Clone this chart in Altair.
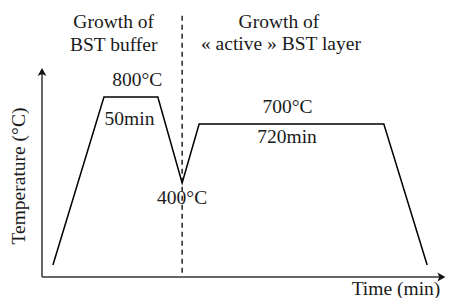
import altair as alt
import pandas as pd

# Schematic thermal profile (arbitrary time / temperature-level units, 0-100)
profile_time = [2.7, 15.3, 28.6, 34.6, 38.8, 84.4, 95.1]
profile_level = [5.7, 86.1, 86.1, 45.0, 73.2, 73.2, 5.7]

# Separator between the two growth phases
sep_time = 34.6
sep_from, sep_to = 2.0, 125.0

# Annotations
labels = ["Growth of", "BST buffer", "Growth of", "« active » BST layer",
          "800°C", "50min", "700°C", "720min", "400°C", "Time (min)"]
label_time = [17.7, 17.7, 58.5, 59.0, 23.5, 21.6, 60.6, 60.5, 34.6, 87.4]
label_level = [119.1, 108.1, 119.1, 108.6, 91.4, 72.7, 78.5, 64.1, 34.9, -8.6]

y_title = "Temperature (°C)"

FONT = "'Liberation Serif', 'Times New Roman', Times, serif"
FS = 19.5


def X(f):
    return alt.X(f, type="quantitative", scale=alt.Scale(domain=[0, 100], nice=False, zero=False), axis=None)


def Y(f):
    return alt.Y(f, type="quantitative", scale=alt.Scale(domain=[0, 100], nice=False, zero=False), axis=None)


prof = pd.DataFrame({"t": profile_time, "T": profile_level,
                     "o": list(range(len(profile_time)))})

line = alt.Chart(prof).mark_line(color="#000000", strokeWidth=1.5).encode(
    x=X("t"), y=Y("T"), order=alt.Order("o", type="quantitative"),
)

yaxis = alt.Chart(pd.DataFrame({"x": [0], "y": [0], "y2": [97.5]})).mark_rule(
    color="#333333", strokeWidth=1.5
).encode(x=X("x"), y=Y("y"), y2="y2")

xaxis = alt.Chart(pd.DataFrame({"x": [0], "x2": [98.5], "y": [0]})).mark_rule(
    color="#333333", strokeWidth=1.5
).encode(x=X("x"), x2="x2", y=Y("y"))

up_arrow = alt.Chart(pd.DataFrame({"x": [0], "y": [100]})).mark_point(
    shape="M 0 0 L 1.1 2 L 0 1.5 L -1.1 2 Z", size=64, filled=True, opacity=1, color="#111111"
).encode(x=X("x"), y=Y("y"))

right_arrow = alt.Chart(pd.DataFrame({"x": [99.6], "y": [0]})).mark_point(
    shape="M 0 0 L -2 -1.1 L -1.5 0 L -2 1.1 Z", size=64, filled=True, opacity=1, color="#111111"
).encode(x=X("x"), y=Y("y"))

sep = alt.Chart(pd.DataFrame({"x": [sep_time], "y": [sep_from], "y2": [sep_to]})).mark_rule(
    color="#000000", strokeWidth=1.3, strokeDash=[5, 4]
).encode(x=X("x"), y=Y("y"), y2="y2")

lab_df = pd.DataFrame({"label": labels, "x": label_time, "y": label_level})
texts = alt.Chart(lab_df).mark_text(
    font=FONT, fontSize=FS, align="center", baseline="alphabetic", color="#1a1a1a"
).encode(x=X("x"), y=Y("y"), text=alt.Text("label", type="nominal"))

ytitle = alt.Chart(pd.DataFrame({"label": [y_title], "x": [-4.3], "y": [48.3]})).mark_text(
    font=FONT, fontSize=FS, align="center", baseline="alphabetic", angle=270, color="#1a1a1a"
).encode(x=X("x"), y=Y("y"), text=alt.Text("label", type="nominal"))

chart = alt.layer(sep, yaxis, xaxis, up_arrow, right_arrow, line, texts, ytitle).properties(
    width=405, height=209,
    autosize=alt.AutoSizeParams(type="none"),
    padding={"left": 34, "top": 60, "right": 0, "bottom": 21},
).configure_view(strokeWidth=0)

chart.save("out.html", embed_options={"renderer": "svg", "actions": False})
